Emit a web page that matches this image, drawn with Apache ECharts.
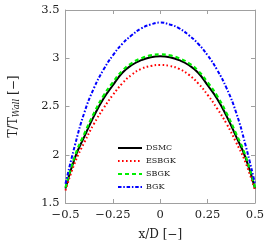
<!DOCTYPE html>
<html><head><meta charset="utf-8">
<script src="https://cdn.jsdelivr.net/npm/echarts@6/dist/echarts.min.js"></script>
<style>html,body{margin:0;padding:0;background:#fff}#c{width:270px;height:250px}</style>
</head><body><div id="c"></div>
<script>
const xs = [-0.5,-0.45,-0.4,-0.35,-0.3,-0.25,-0.2,-0.15,-0.1,-0.05,0,0.05,0.1,0.15,0.2,0.25,0.3,0.35,0.4,0.45,0.5];
const dsmc  = [1.65,1.97,2.19,2.40,2.58,2.72,2.85,2.93,2.98,3.01,3.02,3.01,2.98,2.93,2.85,2.72,2.58,2.40,2.19,1.97,1.65];
const esbgk = [1.63,1.92,2.13,2.32,2.48,2.62,2.74,2.83,2.89,2.92,2.93,2.92,2.89,2.83,2.74,2.62,2.48,2.32,2.13,1.92,1.63];
const sbgk  = [1.66,1.99,2.22,2.43,2.61,2.75,2.87,2.95,3.00,3.03,3.04,3.03,3.00,2.95,2.87,2.75,2.61,2.43,2.22,1.99,1.66];
const bgk   = [1.70,2.10,2.44,2.69,2.88,3.03,3.15,3.24,3.31,3.35,3.37,3.35,3.31,3.24,3.15,3.03,2.88,2.69,2.44,2.10,1.70];
const xTicks = {'-0.5':'−0.5','-0.25':'−0.25','0':'0','0.25':'0.25','0.5':'0.5'};
const yTicks = {'1.5':'1.5','2':'2','2.5':'2.5','3':'3','3.5':'3.5'};
const names = ['DSMC','ESBGK','SBGK','BGK'];

const pair = arr => xs.map((x,i)=>[x,arr[i]]);
const font = 'DejaVu Serif';
const axisCol = '#a0a0a0';
const txt = '#222';
const chart = echarts.init(document.getElementById('c'));
const mkSeries = (name, arr, color, type, w) => ({
  name, type:'line', data: pair(arr), smooth:true, showSymbol:false, symbol:'none',
  lineStyle:{color, width:w, type, cap:'butt'}, itemStyle:{color}
});
const tickStyle = {show:true, inside:true, length:4, lineStyle:{color:axisCol}};
const lineStyle = {show:true, onZero:false, lineStyle:{color:axisCol}};
chart.setOption({
  animation:false,
  grid:{left:61,right:15,top:10,bottom:47},
  legend:{
    orient:'vertical', left:112, top:139, itemWidth:24, itemHeight:8, itemGap:5,
    data:names, itemStyle:{opacity:0, borderWidth:0},
    textStyle:{fontFamily:font, fontSize:8, color:txt, padding:[0,0,0,-1]}
  },
  xAxis:[{
    type:'value', min:-0.5, max:0.5, interval:0.25,
    name:'x/D [−]', nameLocation:'middle', nameGap:26,
    nameTextStyle:{fontFamily:font, fontSize:12, color:txt},
    axisLine:lineStyle, axisTick:tickStyle, splitLine:{show:false},
    axisLabel:{fontFamily:font, fontSize:11.5, color:txt, margin:6,
      formatter:v=>xTicks[String(v)]!==undefined?xTicks[String(v)]:''}
  },{
    type:'value', position:'top', min:-0.5, max:0.5, interval:0.25,
    axisLine:lineStyle, axisTick:tickStyle, axisLabel:{show:false}, splitLine:{show:false}
  }],
  yAxis:[{
    type:'value', min:1.5, max:3.5, interval:0.5,
    name:'{a|T/T}{b|Wall}{a| [−]}', nameLocation:'middle', nameGap:44,
    nameTextStyle:{rich:{
      a:{fontFamily:font, fontSize:12, color:txt},
      b:{fontFamily:font, fontSize:8.5, fontStyle:'italic', color:txt, verticalAlign:'bottom', padding:[6,0,0,0]}
    }},
    axisLine:lineStyle, axisTick:tickStyle, splitLine:{show:false},
    axisLabel:{fontFamily:font, fontSize:11.5, color:txt, margin:6,
      formatter:v=>yTicks[String(v)]!==undefined?yTicks[String(v)]:''}
  },{
    type:'value', position:'right', min:1.5, max:3.5, interval:0.5,
    axisLine:lineStyle, axisTick:tickStyle, axisLabel:{show:false}, splitLine:{show:false}
  }],
  series:[
    mkSeries('DSMC', dsmc, '#000000', 'solid', 2),
    mkSeries('ESBGK', esbgk, '#ff0000', [1.6,2.4], 2),
    mkSeries('SBGK', sbgk, '#00ee00', [4,3], 2.2),
    mkSeries('BGK', bgk, '#0000ff', [3.5,1.8,1.5,1.8], 2)
  ]
});
</script></body></html>
